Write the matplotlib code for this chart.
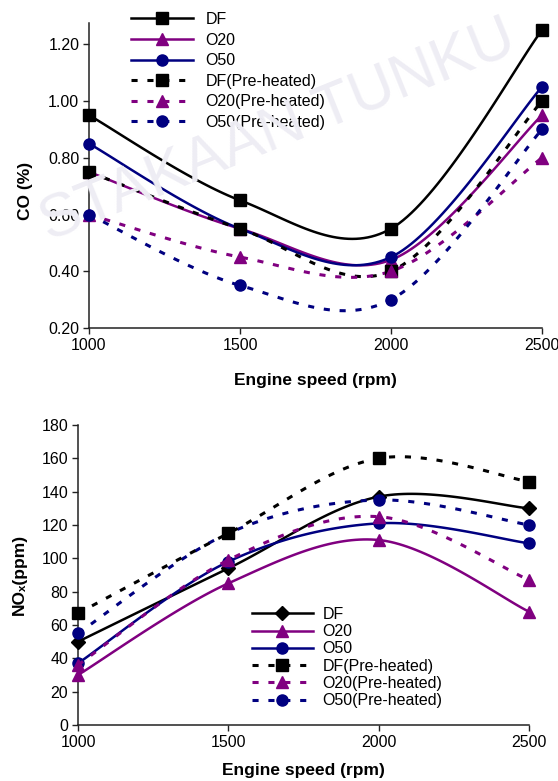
import numpy as np
import matplotlib
matplotlib.use("Agg")
import matplotlib.pyplot as plt
from matplotlib.lines import Line2D

plt.rcParams["font.family"] = ["Liberation Sans", "DejaVu Sans"]

speed = [1000, 1500, 2000, 2500]

# CO (%)
co_df = [0.95, 0.65, 0.55, 1.25]
co_o20 = [0.75, 0.55, 0.44, 0.95]
co_o50 = [0.85, 0.55, 0.45, 1.05]
co_df_pre = [0.75, 0.55, 0.40, 1.00]
co_o20_pre = [0.60, 0.45, 0.40, 0.80]
co_o50_pre = [0.60, 0.35, 0.30, 0.90]

# NOx (ppm)
nox_df = [50, 94, 137, 130]
nox_o20 = [30, 85, 111, 68]
nox_o50 = [37, 98, 121, 109]
nox_df_pre = [67, 115, 160, 146]
nox_o20_pre = [36, 99, 125, 87]
nox_o50_pre = [55, 115, 135, 120]

labels = ["DF", "O20", "O50", "DF(Pre-heated)", "O20(Pre-heated)", "O50(Pre-heated)"]

BLACK, PURPLE, NAVY = "black", "#800080", "#000080"
FS = 11.5


def smooth(x, y, n=40):
    # excel-like smoothed line (cardinal spline through the points)
    pts = np.column_stack([x, y]).astype(float)
    p = np.vstack([pts[0], pts, pts[-1]])
    out = []
    t = np.linspace(0, 1, n)[:, None]
    for i in range(1, len(p) - 2):
        p0, p1, p2, p3 = p[i - 1], p[i], p[i + 1], p[i + 2]
        c1 = p1 + (p2 - p0) / 6
        c2 = p2 - (p3 - p1) / 6
        seg = (1 - t) ** 3 * p1 + 3 * (1 - t) ** 2 * t * c1 + 3 * (1 - t) * t ** 2 * c2 + t ** 3 * p2
        out.append(seg if i == 1 else seg[1:])
    s = np.vstack(out)
    return s[:, 0], s[:, 1]


SOLID_LW = 1.8
DASH_LW = 2.2
DASH = (0, (2.0, 3.2))


def draw(ax, y, color, marker, ms, dashed, z=3):
    xs, ys = smooth(speed, y)
    lw = DASH_LW if dashed else SOLID_LW
    ls = DASH if dashed else "-"
    ax.plot(xs, ys, color=color, lw=lw, ls=ls, zorder=z, clip_on=False)
    ax.plot(speed, y, ls="none", marker=marker, ms=ms, color=color, zorder=z + 0.5, clip_on=False)


def handle(color, marker, ms, dashed):
    return Line2D([], [], color=color, lw=DASH_LW if dashed else SOLID_LW,
                  ls=DASH if dashed else "-", marker=marker, ms=ms)


def style(ax):
    for s in ["top", "right"]:
        ax.spines[s].set_visible(False)
    for s in ["left", "bottom"]:
        ax.spines[s].set_linewidth(1.1)
        ax.spines[s].set_color("#222222")
    ax.tick_params(direction="out", length=4, width=1.0, labelsize=FS, pad=3, color="#222222")
    ax.set_xlim(1000, 2500)
    ax.set_xticks(speed)
    ax.patch.set_alpha(0)


fig = plt.figure(figsize=(5.58, 7.81), dpi=100)

# faint watermark
fig.text(278 / 558, 1 - 132 / 781, "STAKAAN TUNKU", fontsize=44, color="#eeedf4",
         rotation=22, ha="center", va="center", zorder=0)

# ---- CO ----
ax1 = fig.add_axes([89 / 558, 1 - 328 / 781, 453 / 558, 305 / 781])
style(ax1)
ax1.set_ylim(0.2, 1.275)
ax1.set_yticks(np.arange(0.2, 1.21, 0.2))
ax1.set_yticklabels([f"{v:.2f}" for v in np.arange(0.2, 1.21, 0.2)])
ax1.spines["left"].set_bounds(0.2, 1.275)

co_series = [
    (co_df, BLACK, "s", 9, False),
    (co_o20, PURPLE, "^", 9, False),
    (co_o50, NAVY, "o", 8, False),
    (co_df_pre, BLACK, "s", 9, True),
    (co_o20_pre, PURPLE, "^", 9, True),
    (co_o50_pre, NAVY, "o", 8, True),
]
for y, c, m, ms, d in co_series:
    draw(ax1, y, c, m, ms, d)

ax1.legend([handle(c, m, ms, d) for _, c, m, ms, d in co_series], labels,
           loc="upper left", bbox_to_anchor=(131 / 558, 1 - 12 / 781),
           bbox_transform=fig.transFigure, frameon=False, fontsize=FS,
           handlelength=3.9, handletextpad=0.75, labelspacing=0.35,
           borderpad=0, borderaxespad=0)

ax1.set_xlabel("Engine speed (rpm)", fontsize=12.5, fontweight="bold")
ax1.xaxis.set_label_coords(0.5, -0.172)
ax1.xaxis.label.set_va("center")
ax1.set_ylabel("CO (%)", fontsize=12.5, fontweight="bold")
ax1.yaxis.set_label_coords(-0.141, 0.45)
ax1.yaxis.label.set_va("center")

# ---- NOx ----
ax2 = fig.add_axes([78 / 558, 1 - 725 / 781, 451 / 558, 300 / 781])
style(ax2)
ax2.set_ylim(0, 180)
ax2.set_yticks(range(0, 181, 20))

nox_series = [
    (nox_df, BLACK, "D", 7, False, 3),
    (nox_o20, PURPLE, "^", 9, False, 3),
    (nox_o50, NAVY, "o", 8, False, 3),
    (nox_df_pre, BLACK, "s", 9, True, 6),
    (nox_o20_pre, PURPLE, "^", 9, True, 4),
    (nox_o50_pre, NAVY, "o", 8, True, 4),
]
for y, c, m, ms, d, z in nox_series:
    draw(ax2, y, c, m, ms, d, z)

ax2.legend([handle(c, m, ms, d) for _, c, m, ms, d, _ in nox_series], labels,
           loc="upper left", bbox_to_anchor=(252 / 558, 1 - 607 / 781),
           bbox_transform=fig.transFigure, frameon=False, fontsize=FS,
           handlelength=3.8, handletextpad=0.6, labelspacing=0.14,
           borderpad=0, borderaxespad=0)

ax2.set_xlabel("Engine speed (rpm)", fontsize=12.5, fontweight="bold")
ax2.xaxis.set_label_coords(0.5, -0.152)
ax2.xaxis.label.set_va("center")
ax2.set_ylabel("NOₓ(ppm)", fontsize=12.5, fontweight="bold")
ax2.yaxis.set_label_coords(-0.129, 0.503)
ax2.yaxis.label.set_va("center")

fig.savefig("out.png", dpi=100)
